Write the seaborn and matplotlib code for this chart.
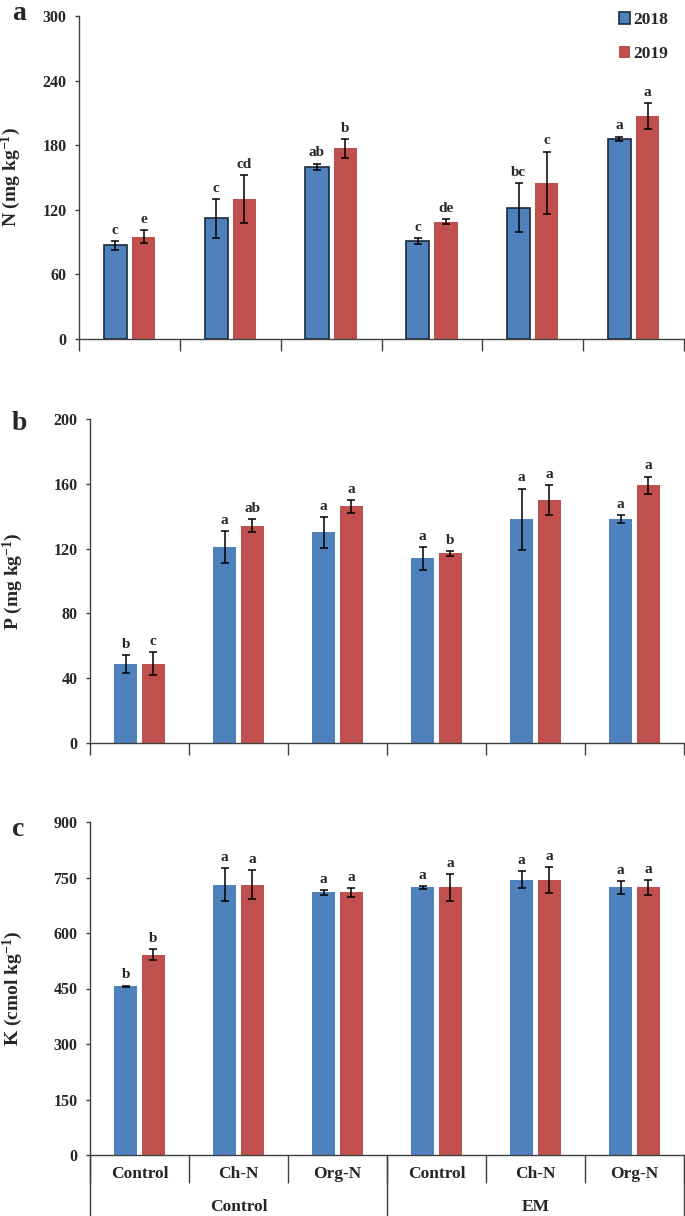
import numpy as np
import pandas as pd
import matplotlib
matplotlib.use("Agg")
import matplotlib.pyplot as plt
import matplotlib.transforms as mtransforms
import seaborn as sns

# Treatments (fertilizer within inoculation group)
keys = ["t1", "t2", "t3", "t4", "t5", "t6"]
fert_labels = ["Control", "Ch-N", "Org-N", "Control", "Ch-N", "Org-N"]
groups = ["Control", "EM"]
years = ["2018", "2019"]

# Panel a: N (mg kg-1)
n_2018 = [87, 112, 160, 91, 122, 186]
n_2018_err = [4, 18, 3, 3, 23, 2]
n_2019 = [95, 130, 177, 109, 145, 207]
n_2019_err = [6, 22, 9, 2.5, 29, 12]
n_2018_let = ["c", "c", "ab", "c", "bc", "a"]
n_2019_let = ["e", "cd", "b", "de", "c", "a"]

# Panel b: P (mg kg-1)
p_2018 = [49, 121, 130, 114, 138, 138]
p_2018_err = [5.5, 10, 9.5, 7, 19, 2.5]
p_2019 = [49, 134, 146, 117, 150, 159]
p_2019_err = [7, 4, 4, 1.5, 9, 5.5]
p_2018_let = ["b", "a", "a", "a", "a", "a"]
p_2019_let = ["c", "ab", "a", "b", "a", "a"]

# Panel c: K (cmol kg-1)
k_2018 = [456, 731, 710, 723, 744, 723]
k_2018_err = [2, 44, 6, 4, 23, 17]
k_2019 = [541, 731, 710, 723, 744, 723]
k_2019_err = [15, 40, 12, 36, 35, 20]
k_2018_let = ["b", "a", "a", "a", "a", "a"]
k_2019_let = ["b", "a", "a", "a", "a", "a"]

colors = ["#4F81BD", "#C0504D"]
axis_col = "#404040"

sns.set_style("ticks")
plt.rcParams["font.family"] = ["Liberation Serif", "DejaVu Serif"]
plt.rcParams["font.weight"] = "bold"
plt.rcParams["mathtext.fontset"] = "custom"
plt.rcParams["mathtext.rm"] = "Liberation Serif:bold"
plt.rcParams["mathtext.bf"] = "Liberation Serif:bold"
plt.rcParams["mathtext.default"] = "rm"

fig = plt.figure(figsize=(6.85, 12.16), dpi=100)
W, H = 685, 1216


def px_axes(left, top, right, bottom):
    return fig.add_axes([left / W, 1 - bottom / H, (right - left) / W, (bottom - top) / H])


def draw_panel(ax, v18, e18, v19, e19, l18, l19, ymax, ystep, ylabel, edged=False, sep_len=8.6):
    df = pd.DataFrame({
        "trt": keys * 2,
        "year": [years[0]] * 6 + [years[1]] * 6,
        "value": v18 + v19,
    })
    sns.barplot(data=df, x="trt", y="value", hue="year", order=keys, hue_order=years,
                palette=colors, width=0.56, gap=0.18, errorbar=None, legend=False,
                ax=ax, edgecolor="none", linewidth=0, saturation=1)
    if edged:
        for bar in ax.containers[0]:
            bar.set_edgecolor("#1c2a3a")
            bar.set_linewidth(1.2)
    for cont, err, lets in zip(ax.containers, [e18, e19], [l18, l19]):
        xs = [b.get_x() + b.get_width() / 2 for b in cont]
        hs = [b.get_height() for b in cont]
        ax.errorbar(xs, hs, yerr=err, fmt="none", ecolor="black", elinewidth=1.1,
                    capsize=3.2, capthick=1.1, zorder=5)
        for x, h, e, t in zip(xs, hs, err, lets):
            ax.annotate(t, (x, h + e), xytext=(0, 3), textcoords="offset points",
                        ha="center", va="bottom", fontsize=11, fontweight="bold")
    ax.set_xlim(-0.5, 5.5)
    ax.set_ylim(0, ymax)
    ax.set_yticks(np.arange(0, ymax + 1, ystep))
    ax.set_xticks(range(6))
    ax.set_xticks(np.arange(-0.5, 6, 1), minor=True)
    ax.tick_params(axis="x", which="major", length=0)
    ax.tick_params(axis="x", which="minor", length=sep_len, width=1, color=axis_col,
                   direction="out")
    ax.tick_params(axis="y", length=3, width=1, color=axis_col, labelsize=11.5, pad=6)
    for lab in ax.get_yticklabels():
        lab.set_fontweight("bold")
    sns.despine(ax=ax)
    for s in ["left", "bottom"]:
        ax.spines[s].set_color(axis_col)
        ax.spines[s].set_linewidth(1)
    ax.spines["bottom"].set_zorder(6)
    ax.set_xlabel("")
    ax.set_ylabel(ylabel, fontsize=14, fontweight="bold")


# Panel a
ax_a = px_axes(79, 16, 684, 339)
draw_panel(ax_a, n_2018, n_2018_err, n_2019, n_2019_err, n_2018_let, n_2019_let,
           300, 60, r"N (mg kg$^{-1}$)", edged=True)
ax_a.set_xticklabels([])
ax_a.yaxis.set_label_coords(-0.092, 0.5)
ax_a.legend(handles=list(ax_a.containers[:2]), labels=years, loc="upper right",
            bbox_to_anchor=(1.0, 1.06), frameon=False, handlelength=0.6,
            handleheight=0.7, handletextpad=0.2, labelspacing=1.0,
            prop={"weight": "bold", "size": 12.5})

# Panel b
ax_b = px_axes(90, 419, 684, 743)
draw_panel(ax_b, p_2018, p_2018_err, p_2019, p_2019_err, p_2018_let, p_2019_let,
           200, 40, r"P (mg kg$^{-1}$)")
ax_b.set_xticklabels([])
ax_b.yaxis.set_label_coords(-0.11, 0.5)

# Panel c
ax_c = px_axes(90, 822, 684, 1155)
draw_panel(ax_c, k_2018, k_2018_err, k_2019, k_2019_err, k_2018_let, k_2019_let,
           900, 150, r"K (cmol kg$^{-1}$)", sep_len=20)
ax_c.set_xticklabels(fert_labels, fontsize=12.5, fontweight="bold")
ax_c.tick_params(axis="x", which="major", pad=8)
ax_c.yaxis.set_label_coords(-0.11, 0.5)

# group separators and labels below panel c
trans = mtransforms.blended_transform_factory(ax_c.transData, ax_c.transAxes)
for xv in [-0.5, 2.5, 5.5]:
    ax_c.plot([xv, xv], [0, -0.19], transform=trans, clip_on=False,
              color=axis_col, lw=1)
for gx, g in zip([1, 4], groups):
    ax_c.text(gx, -0.157, g, transform=trans, ha="center", va="center",
              fontsize=12.5, fontweight="bold")

# panel letters
for letter, ybase in zip(["a", "b", "c"], [20, 430, 836]):
    fig.text(12 / W, 1 - ybase / H, letter, fontsize=20, fontweight="bold",
             va="baseline", ha="left")

fig.savefig("out.png", dpi=100)
